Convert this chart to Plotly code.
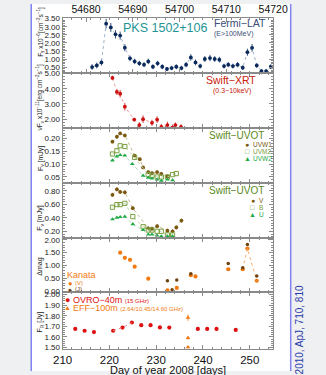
import plotly.graph_objects as go

W, H = 326, 375
MJD_OFFSET = 54465
TOP_TICKS = [54680, 54690, 54700, 54710, 54720]

# ---- Fermi-LAT ----
fermi_x = [216.3, 217.3, 218.3, 219.3, 220.3, 221.3, 222.3, 223.3, 224.4, 225.4,
           226.4, 227.4, 228.3, 229.3, 230.3, 231.3, 232.3, 233.3, 234.3, 235.4,
           236.4, 237.4, 238.4, 239.4, 240.4, 241.5, 242.5, 243.5, 244.5, 245.4,
           246.4, 247.4, 248.5, 249.5, 250.5, 251.5, 252.5, 253.5, 254.5]
fermi_y = [0.50, 0.60, 0.79, 3.19, 2.96, 2.53, 2.45, 1.70, 1.04, 0.85,
           0.73, 0.65, 0.85, 0.52, 0.73, 0.52, 0.38, 0.44, 0.52, 0.44,
           0.65, 1.10, 0.79, 0.56, 1.00, 1.06, 1.00, 0.96, 0.56, 0.65,
           0.56, 0.65, 0.46, 1.42, 1.69, 0.60, 0.25, 0.25, 0.52]
fermi_e = [0.18, 0.18, 0.2, 0.3, 0.28, 0.26, 0.25, 0.22, 0.18, 0.17,
           0.16, 0.15, 0.17, 0.15, 0.16, 0.15, 0.13, 0.14, 0.15, 0.14,
           0.16, 0.2, 0.18, 0.15, 0.18, 0.2, 0.18, 0.18, 0.15, 0.16,
           0.15, 0.16, 0.14, 0.22, 0.24, 0.16, 0.12, 0.12, 0.15]

# ---- Swift-XRT ----
xrt_x = [220.65, 221.6, 222.3, 223.3, 225.3, 226.4, 227.2, 229.1, 230.2, 231.1, 232.4, 233.5, 234.1, 235.3]
xrt_y = [4.71, 3.79, 3.67, 2.82, 1.97, 1.61, 2.00, 1.76, 1.97, 1.49, 1.61, 1.44, 1.61, 1.49]
xrt_e = [0.15, 0.2, 0.25, 0.25, 0.12, 0.2, 0.25, 0.2, 0.22, 0.2, 0.22, 0.2, 0.18, 0.18]

# ---- Swift-UVOT (UV filters) ----
uvw1_x = [220.65, 221.6, 222.3, 223.3, 225.4, 226.5, 227.2, 228.3, 229.1, 230.2, 231.1, 232.4]
uvw1_y = [0.187, 0.206, 0.219, 0.211, 0.133, 0.119, 0.087, 0.069, 0.065, 0.069, 0.062, 0.052]
uvm2_x = [220.65, 221.6, 222.3, 223.3, 225.4, 228.3, 229.1, 230.2, 231.1, 232.4, 233.5, 234.3]
uvm2_y = [0.139, 0.152, 0.171, 0.168, 0.126, 0.059, 0.056, 0.050, 0.050, 0.050, 0.059, 0.063]
uvw2_x = [220.65, 221.6, 222.3, 223.3, 224.9, 227.2, 228.3, 229.1, 230.2, 231.1, 232.4, 233.5]
uvw2_y = [0.114, 0.130, 0.135, 0.133, 0.100, 0.055, 0.047, 0.044, 0.040, 0.035, 0.040, 0.037]

# ---- Swift-UVOT (optical filters) ----
v_x = [220.65, 221.6, 222.3, 223.3, 225.0, 228.3, 229.1, 230.2, 232.4, 233.5, 234.3, 235.4]
v_y = [0.742, 0.824, 0.785, 0.780, 0.544, 0.244, 0.239, 0.277, 0.210, 0.200, 0.258, 0.360]
b_x = [220.65, 221.6, 222.3, 223.3, 225.0, 227.2, 228.3, 229.1, 230.2, 231.1, 232.4, 233.5]
b_y = [0.558, 0.597, 0.597, 0.616, 0.418, 0.268, 0.219, 0.219, 0.200, 0.200, 0.147, 0.147]
u_x = [220.65, 221.6, 222.3, 223.3, 225.0, 227.2, 228.3, 229.1, 230.2, 231.1, 232.4, 233.5]
u_y = [0.379, 0.403, 0.413, 0.418, 0.307, 0.219, 0.152, 0.152, 0.137, 0.127, 0.127, 0.127]

# ---- Kanata ----
kv_x = [222.3, 223.3, 224.4, 225.4, 228.3, 232.4, 234.4, 237.4, 238.4, 245.4, 248.5, 249.5, 251.5]
kv_y = [1.50, 1.30, 1.22, 0.95, 0.48, 0.02, 0.12, 0.62, 0.57, 0.85, 0.85, 1.66, 0.40]
kj_x = [232.4, 233.4, 234.4, 237.4, 245.4, 248.5, 249.5, 251.5]
kj_y = [0.40, 0.05, 0.43, 0.67, 1.08, 0.91, 1.82, 0.59]

# ---- Radio ----
ovro_x = [212.7, 214.7, 216.7, 220.8, 222.8, 224.8, 226.8, 228.8, 230.8, 232.8, 238.9, 240.9, 242.9, 247.0]
ovro_y = [1.675, 1.658, 1.646, 1.658, 1.688, 1.736, 1.711, 1.711, 1.690, 1.688, 1.675, 1.675, 1.675, 1.666]
eff_x = [236.8, 236.8, 236.8]
eff_y = [1.782, 1.590, 1.503]
eff_e = [0.03, 0.015, 0.01]

# ---------------- layout helpers ----------------
X0, X1 = 57, 285
PANELS = [(14, 70.7), (70.7, 126.7), (126.7, 183.3), (183.3, 239.5), (239.5, 294), (294, 352.7)]
YRANGES = [[0.12, 3.56], [1.42, 5.02], [0.025, 0.24], [0.095, 0.912], [-0.03, 2.06], [1.484, 2.027]]
YDTICK = [0.5, 1.0, 0.05, 0.2, 0.5, 0.1]
YTICK0 = [0.5, 2.0, 0.05, 0.2, 0.0, 1.5]
YMINOR = [0.1, 0.2, 0.01, 0.04, 0.1, 0.02]

def px(x):
    return x / W

def py(y):
    return (H - y) / H

FRAME = "#8a8a8a"
TICKFONT = dict(family="Liberation Sans", size=8, color="#222")

fig = go.Figure()

def add(x, y, k, color, symbol="circle", size=3.8, err=None, line=None, lw=1, open_=False):
    xa = "x" if k == 1 else f"x{k}"
    ya = "y" if k == 1 else f"y{k}"
    mode = "markers+lines" if line else "markers"
    m = dict(color=color, size=size, symbol=symbol)
    if open_:
        m = dict(color=color, size=size, symbol=symbol + "-open", line=dict(width=1, color=color))
    tr = go.Scatter(x=x, y=y, mode=mode, xaxis=xa, yaxis=ya, marker=m,
                    line=dict(color=line or color, dash="dot", width=lw),
                    showlegend=False, hoverinfo="skip")
    if err is not None:
        tr.error_y = dict(type="data", array=err, color=color, thickness=0.8, width=0)
    fig.add_trace(tr)

# panel 1
add(fermi_x, fermi_y, 1, "#0b2a5c", err=fermi_e, line="#9fb4cc", size=3.8)
# panel 2
add(xrt_x, xrt_y, 2, "#cc1010", err=xrt_e, line="#eba0a0", size=3.8)
# panel 3
add(uvw1_x, uvw1_y, 3, "#7a5a10", err=[0.006] * len(uvw1_x), line="#c8b890", size=3.8)
add(uvm2_x, uvm2_y, 3, "#7aa040", symbol="square", line="#c0d6a8", size=4.2, open_=True)
add(uvw2_x, uvw2_y, 3, "#1faa44", symbol="triangle-up", line="#a8dcb4", size=4.2)
# panel 4
add(v_x, v_y, 4, "#7a5a10", err=[0.03] * len(v_x), line="#c8b890", size=3.8)
add(b_x, b_y, 4, "#7aa040", symbol="square", line="#c0d6a8", size=4.2, open_=True)
add(u_x, u_y, 4, "#1faa44", symbol="triangle-up", line="#a8dcb4", size=4.2)
# panel 5
add(kv_x, kv_y, 5, "#f07a10", err=[0.04] * len(kv_x), size=4.2)
add(kv_x[-3:], kv_y[-3:], 5, "#f07a10", line="#f5b070", size=0.1)
add(kj_x, kj_y, 5, "#6e4210", err=[0.04] * len(kj_x), size=3.5)
# panel 6
add(ovro_x, ovro_y, 6, "#dd1111", err=[0.012] * len(ovro_x), size=4.2)
add(ovro_x[3:6], ovro_y[3:6], 6, "#dd1111", line="#f08080", size=0.1)
add(eff_x, eff_y, 6, "#f07a10", symbol="triangle-up", err=eff_e, size=4.2)

layout = dict(
    width=W, height=H, margin=dict(l=0, r=0, t=0, b=0),
    paper_bgcolor="#eef0f1", plot_bgcolor="rgba(0,0,0,0)",
    showlegend=False,
)

for i, (top, bot) in enumerate(PANELS):
    k = i + 1
    xn = "xaxis" if k == 1 else f"xaxis{k}"
    yn = "yaxis" if k == 1 else f"yaxis{k}"
    xax = dict(domain=[px(X0), px(X1)], range=[210, 255], anchor="y" if k == 1 else f"y{k}",
               showline=True, linecolor=FRAME, linewidth=1, mirror="allticks",
               ticks="inside", ticklen=4, tickcolor=FRAME, showgrid=False, zeroline=False,
               tickmode="linear", tick0=210, dtick=10,
               minor=dict(ticks="inside", ticklen=2, tickcolor=FRAME, dtick=2, tick0=210),
               showticklabels=False)
    if k != 1:
        xax["matches"] = "x"
    if k == 1:
        xax.update(side="top", showticklabels=True, tickmode="array",
                   tickvals=[t - MJD_OFFSET for t in TOP_TICKS],
                   ticktext=[str(t) for t in TOP_TICKS],
                   tickfont=dict(family="Liberation Sans", size=10.5, color="#111"))
    if k == 6:
        xax.update(showticklabels=True,
                   tickfont=dict(family="Liberation Sans", size=11.5, color="#111"))
    yax = dict(domain=[py(bot), py(top)], range=YRANGES[i], anchor="x" if k == 1 else f"x{k}",
               showline=True, linecolor=FRAME, linewidth=1, mirror="allticks",
               ticks="inside", ticklen=4, tickcolor=FRAME, showgrid=False, zeroline=False,
               tickmode="linear", tick0=YTICK0[i], dtick=YDTICK[i], tickformat=".2f",
               minor=dict(ticks="inside", ticklen=2, tickcolor=FRAME, dtick=YMINOR[i], tick0=YTICK0[i]),
               tickfont=TICKFONT)
    layout[xn] = xax
    layout[yn] = yax

fig.update_layout(**layout)

# page background strip with blue borders
fig.add_shape(type="rect", xref="paper", yref="paper", x0=px(23), x1=px(304), y0=0, y1=1,
              fillcolor="white", line=dict(width=0), layer="below")
for xv in (23, 304):
    fig.add_shape(type="line", xref="paper", yref="paper", x0=px(xv), x1=px(xv), y0=0, y1=1,
                  line=dict(color="#8282f0", width=1.5), layer="above")

def ann(text, x, y, size, color, xanchor="center", yanchor="middle", angle=0, family="Liberation Sans"):
    fig.add_annotation(text=text, x=px(x), y=py(y), xref="paper", yref="paper",
                       showarrow=False, xanchor=xanchor, yanchor=yanchor, textangle=angle,
                       font=dict(size=size, color=color, family=family))

# panel labels
ann("PKS 1502+106", 168, 25, 12.5, "#1e9494")
ann("Fermi−LAT", 279, 19, 10.5, "#3b4f78", xanchor="right")
ann("(E>100MeV)", 266, 31, 7, "#3b4f78", xanchor="right")
ann("Swift−XRT", 269, 78, 10.5, "#c8200c", xanchor="right")
ann("(0.3−10keV)", 263, 89, 7, "#c8200c", xanchor="right")
ann("Swift−UVOT", 277, 134, 10, "#5a8a1a", xanchor="right")
ann("Swift−UVOT", 277, 191, 10, "#5a8a1a", xanchor="right")

# UVOT legends
for (sym, col, lab, yy) in [("●", "#7a5a10", "UVW1", 143.5), ("□", "#7aa040", "UVM2", 150.5), ("▲", "#1faa44", "UVW2", 157.5)]:
    ann(sym, 257, yy, 7, col)
    ann(lab, 261, yy, 6.5, col, xanchor="left")
for (sym, col, lab, yy) in [("●", "#7a5a10", "V", 201), ("□", "#7aa040", "B", 208), ("▲", "#1faa44", "U", 215.5)]:
    ann(sym, 263, yy, 7, col)
    ann(lab, 267, yy, 6.5, col, xanchor="left")

# Kanata legend
ann("Kanata", 60, 277, 9, "#f07a10", xanchor="left")
ann("●", 65, 285.5, 7.5, "#f07a10")
ann("(V)", 68, 285.5, 6, "#f07a10", xanchor="left")
ann("●", 65, 291.5, 6.5, "#6e4210")
ann("(J)", 68, 291.5, 6, "#6e4210", xanchor="left")

# radio legend
ann("●", 62, 302.5, 9, "#dd1111")
ann("OVRO−40m <span style='font-size:6px'>(15 GHz)</span>", 66, 302.5, 9, "#dd1111", xanchor="left")
ann("▲", 62, 310.5, 7, "#f07a10")
ann("EFF−100m <span style='font-size:6px'>(2.64/10.45/14.60 GHz)</span>", 66, 310.5, 9, "#f07a10", xanchor="left")

# y-axis titles
ann("F<sub>γ</sub> x10<sup>−6</sup>[cm<sup>−2</sup>s<sup>−1</sup>]", 33, 28, 6.5, "#222", angle=-90)
ann("νF<sub>ν</sub> x10<sup>−11</sup>[erg cm<sup>−2</sup>s<sup>−1</sup>]", 33, 95, 6.5, "#222", angle=-90)
ann("F<sub>ν</sub> [mJy]", 33, 158, 7, "#222", angle=-90)
ann("F<sub>ν</sub> [mJy]", 33, 219, 7, "#222", angle=-90)
ann("Δmag", 33, 268, 7, "#222", angle=-90)
ann("F<sub>R</sub> [Jy]", 33, 325, 7, "#222", angle=-90)

# x-axis title (cut at bottom edge)
ann("Day of year 2008 [days]", 171, 366, 11, "#111", yanchor="top")

# reference on right margin
ann("2010, ApJ, 710, 810", 313, 285, 10, "#2a3aa8", yanchor="top", angle=-90)

fig.write_html("out.html")
